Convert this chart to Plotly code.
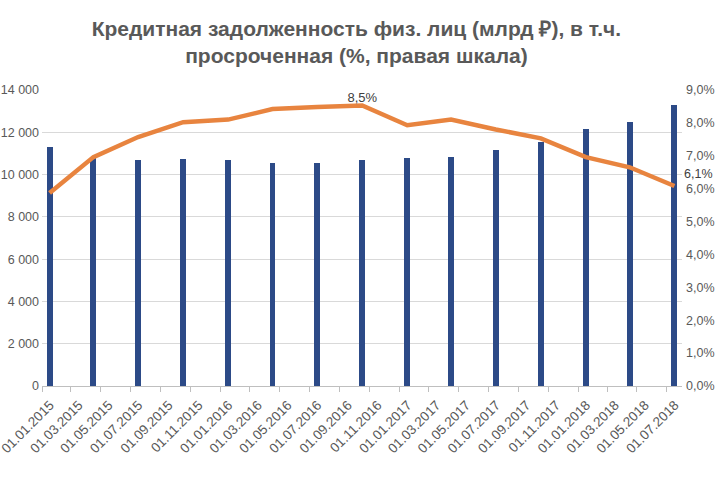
import plotly.graph_objects as go

# ---- data ----
dates = ["2015-01-01", "2015-04-01", "2015-07-01", "2015-10-01", "2016-01-01",
         "2016-04-01", "2016-07-01", "2016-10-01", "2017-01-01", "2017-04-01",
         "2017-07-01", "2017-10-01", "2018-01-01", "2018-04-01", "2018-07-01"]
loans_bln = [11300, 10830, 10690, 10740, 10690, 10550, 10550, 10690, 10790, 10830,
             11160, 11540, 12160, 12490, 13290]
overdue_pct = [5.87, 6.96, 7.57, 8.02, 8.10, 8.42, 8.48, 8.53, 7.93, 8.10,
               7.80, 7.53, 6.96, 6.65, 6.08]
peak_label_index = 7
title_text = "Кредитная задолженность физ. лиц (млрд ₽), в т.ч.<br>просроченная (%, правая шкала)"

FONT = "Liberation Sans, Arial, sans-serif"
GRAY = "#595959"


def pct(v):
    return f"{v:.1f}%".replace(".", ",")


point_text = [pct(v) if i == peak_label_index else "" for i, v in enumerate(overdue_pct)]

M_L, M_R, M_T, M_B = 42, 38, 90, 94

fig = go.Figure()
fig.add_trace(go.Bar(
    x=dates, y=loans_bln, xperiod="M1", xperiodalignment="middle",
    width=12 * 86400000, marker=dict(color="#2C4A87", line=dict(width=0)),
    yaxis="y", showlegend=False))
fig.add_trace(go.Scatter(
    x=dates, y=overdue_pct, xperiod="M1", xperiodalignment="middle",
    mode="lines+text", line=dict(color="#E8843F", width=4.5),
    text=point_text, textposition="top center",
    textfont=dict(family=FONT, size=13, color="#404040"),
    yaxis="y2", showlegend=False, cliponaxis=False))

# label of the last point, to the right of it
fig.add_annotation(x=dates[-1], y=overdue_pct[-1], xref="x", yref="y2",
                   text=pct(overdue_pct[-1]), showarrow=False,
                   xanchor="left", yanchor="middle", xshift=15, yshift=12,
                   font=dict(family=FONT, size=12.5, color="#404040"))

fig.update_layout(
    width=720, height=480,
    margin=dict(l=M_L, r=M_R, t=M_T, b=M_B),
    paper_bgcolor="white", plot_bgcolor="white",
    separators=", ",
    font=dict(family=FONT, color=GRAY),
    title=dict(text="<b>" + title_text + "</b>", x=0.495, xanchor="center",
               y=0.925, yanchor="top",
               font=dict(family=FONT, size=21, color=GRAY)),
    bargap=0,
    xaxis=dict(type="date", range=["2015-01-01", "2018-08-01"],
               tick0="2015-01-01", dtick="M2", tickformat="%d.%m.%Y",
               tickangle=-45, ticks="outside", ticklen=5, tickcolor="#BFBFBF",
               ticklabelshift=8, automargin=False, ticklabeloverflow="allow",
               showline=True, linecolor="#BFBFBF", linewidth=1,
               showgrid=False, tickfont=dict(family=FONT, size=13.5, color=GRAY)),
    yaxis=dict(range=[0, 14000], dtick=2000, tickformat=",d",
               showgrid=True, gridcolor="#D9D9D9", gridwidth=1,
               zeroline=False, showline=False, ticklabelstandoff=2,
               automargin=False, ticklabeloverflow="allow",
               tickfont=dict(family=FONT, size=12.5, color=GRAY)),
    yaxis2=dict(range=[0, 9], dtick=1, tickformat=".1f", ticksuffix="%",
                overlaying="y", side="right", showgrid=False, zeroline=False,
                showline=False, ticklabelstandoff=3, automargin=False,
                ticklabeloverflow="allow",
                tickfont=dict(family=FONT, size=12.5, color=GRAY)),
)

fig.write_html("out.html", config={"displayModeBar": False},
               post_script="document.body.style.margin='0';"
                           "document.documentElement.style.margin='0';")
